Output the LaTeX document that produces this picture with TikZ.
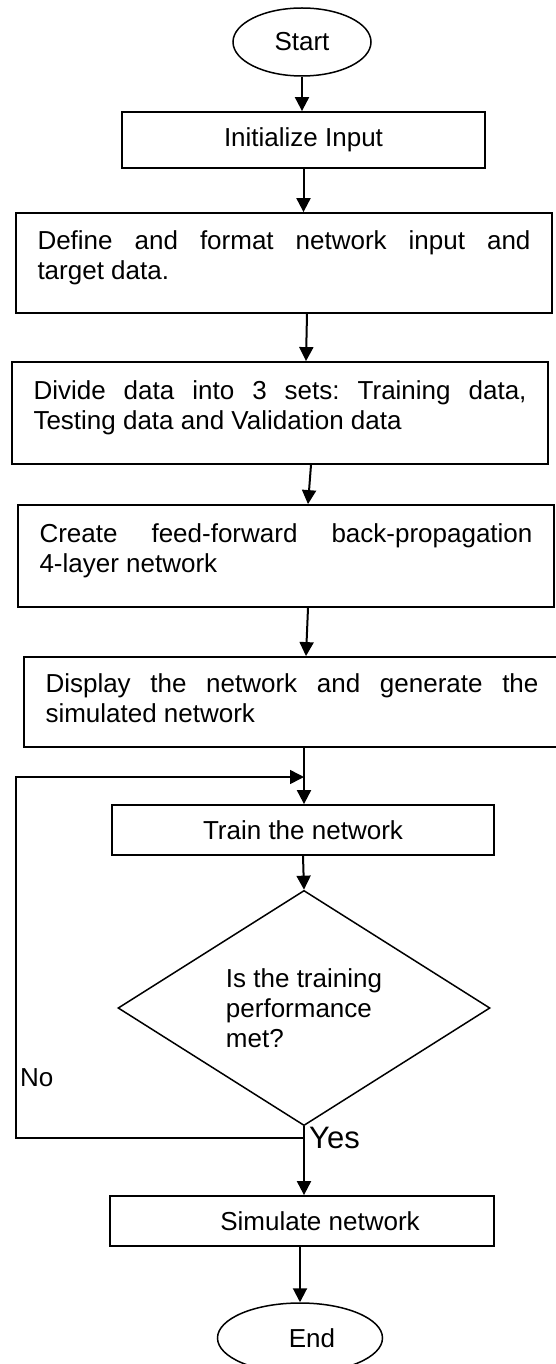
\documentclass[tikz,border=0pt]{standalone}
\usepackage{fontspec}
\setmainfont{Liberation Sans}
\usetikzlibrary{shapes.geometric, arrows.meta}
\frenchspacing

\begin{document}
\begin{tikzpicture}[x=1pt, y=1pt, >={Triangle[length=14pt,width=14pt]},
  font=\fontsize{26pt}{30pt}\selectfont,
  term/.style={draw, ellipse, line width=1.5pt, inner sep=0pt},
  stepbox/.style={draw, rectangle, line width=1.8pt, inner sep=0pt},
  widebox/.style={draw, rectangle, line width=1.8pt, text width=493pt,
    inner xsep=21.5pt, inner ysep=0pt, align=justify, text depth=45pt},
  decision/.style={draw, diamond, line width=1.5pt, minimum width=372pt,
    minimum height=192pt, inner sep=0pt, align=left},
  flow/.style={->, line width=2pt}]
  \useasboundingbox (0,0) rectangle (555,-1364);

  % steps
  \node[term, minimum width=138pt, minimum height=68pt] (start) at (302,-42) {Start};
  \node[stepbox, minimum width=363pt, minimum height=56pt] (init) at (303.5,-140) {Initialize Input};
  \node[widebox, minimum height=100pt] (define) at (284,-263)
    {\noindent Define and format network input and\linebreak target data.};
  \node[widebox, minimum height=102pt] (divide) at (280,-413)
    {\noindent Divide data into 3 sets: Training data,\linebreak Testing data and Validation data};
  \node[widebox, minimum height=102pt] (create) at (286,-556)
    {\noindent Create feed-forward back-propagation\linebreak 4-layer network};
  \node[widebox, minimum height=90pt, text depth=37pt] (display) at (292,-702)
    {\noindent Display the network and generate the\linebreak simulated network};
  \node[stepbox, minimum width=382pt, minimum height=50pt] (train) at (303,-830) {Train the network};
  \node[decision] (check) at (304,-1008) {Is the training\\performance\\met?};
  \node[stepbox, minimum width=384pt, minimum height=50pt] (sim) at (302,-1221) {\hspace*{36pt}Simulate network};
  \node[term, minimum width=165pt, minimum height=70pt] (end) at (300,-1338) {\hspace*{24pt}End};

  % main flow
  \draw[flow] (start.south) -- (start.south |- init.north);
  \draw[flow] (init.south) -- (init.south |- define.north);
  \draw[flow] ([xshift=23pt]define.south) -- ([xshift=26pt]divide.north);
  \draw[flow] ([xshift=31pt]divide.south) -- ([xshift=22pt]create.north);
  \draw[flow] ([xshift=22pt]create.south) -- ([xshift=14pt]display.north);
  \draw[flow] ([xshift=12pt]display.south) -- ([xshift=1pt]train.north);
  \draw[flow] (train.south) -- (check.north);
  \draw[flow] (check.south) -- (check.south |- sim.north);
  \draw[flow] (end.north |- sim.south) -- (end.north);

  % loop back when not met
  \coordinate (yes) at (check.south |- 0,-1138);
  \coordinate (loopleft) at (16,-777);
  \coordinate (back) at (304,-777);
  \draw[flow, line width=1.5pt] (yes) -| (loopleft) -- (back);
  \node[anchor=west, inner sep=0pt] (no) at (20,-1078) {No};
  \node[anchor=west, inner sep=0pt, font=\fontsize{31pt}{36pt}\selectfont] (yeslabel) at (309,-1138) {Yes};
\end{tikzpicture}
\end{document}
